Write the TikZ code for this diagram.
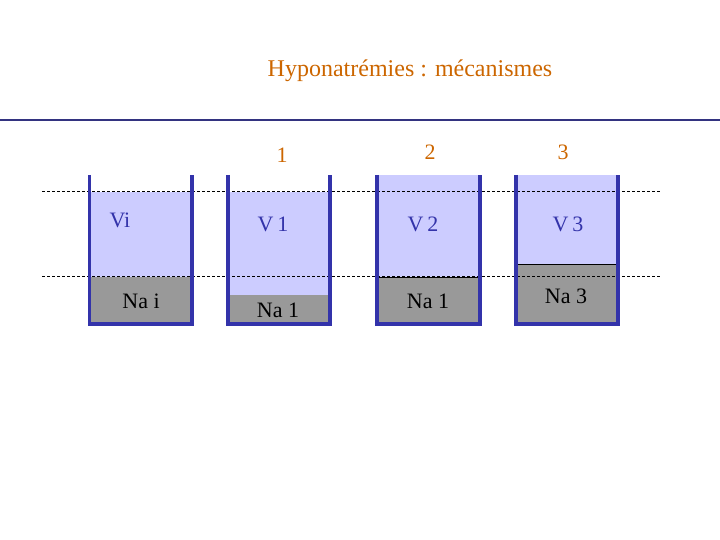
\documentclass[tikz,border=0pt]{standalone}
\usepackage{fontspec}
\setmainfont{Liberation Serif}

\definecolor{orangetitre}{RGB}{204,102,0}
\definecolor{bleuparoi}{RGB}{51,51,170}
\definecolor{bleueau}{RGB}{204,204,255}
\definecolor{grissel}{RGB}{153,153,153}
\definecolor{bleutrait}{RGB}{51,51,128}

\tikzset{
  paroi/.style={draw=bleuparoi, line width=3.5pt},
  eau/.style={fill=bleueau},
  sel/.style={fill=grissel},
  niveau/.style={dash pattern=on 3pt off 2pt, line width=1pt},
  grand/.style={font=\fontsize{24}{28}\selectfont, text=orangetitre},
  num/.style={font=\fontsize{22}{26}\selectfont, text=orangetitre, anchor=base},
  vol/.style={font=\fontsize{22}{26}\selectfont, text=bleuparoi, anchor=base},
  na/.style={font=\fontsize{22}{26}\selectfont, anchor=base},
}

\begin{document}
\begin{tikzpicture}[x=1pt,y=-1pt]

\useasboundingbox (0,0) rectangle (720,540);

\node[grand,anchor=base] (ttl) at (410,77) {Hyponatrémies : mécanismes};
\draw[bleutrait, line width=1.2pt] (0,120) -- (720,120);

% eau et sel
\fill[eau] (89.5,192) rectangle (192,277);
\fill[sel] (89.5,277) rectangle (192,324);
\fill[eau] (228,192) rectangle (330,295);
\fill[sel] (228,295) rectangle (330,324);
\fill[eau] (377,175) rectangle (480,277);
\fill[sel] (377,277) rectangle (480,324);
\draw[line width=0.8pt] (377,277) -- (480,277);
\fill[eau] (516,175) rectangle (618,264);
\fill[sel] (516,264) rectangle (618,324);
\draw[line width=0.8pt] (516,264) -- (618,264);

% niveaux
\coordinate (haut-g) at (42,192);
\coordinate (haut-d) at (660,192);
\coordinate (bas-g)  at (42,276);
\coordinate (bas-d)  at (660,276);
\draw[niveau] (haut-g) -- (haut-d);
\draw[niveau] (bas-g) -- (bas-d);

% parois
\draw[paroi] (89.5,175) -- (89.5,324) -- (192,324) -- (192,175);
\draw[paroi] (228,175) -- (228,324) -- (330,324) -- (330,175);
\draw[paroi] (377,175) -- (377,324) -- (480,324) -- (480,175);
\draw[paroi] (516,175) -- (516,324) -- (618,324) -- (618,175);

\node[num] (n1) at (282,163) {1};
\node[num] (n2) at (430,160) {2};
\node[num] (n3) at (563,160) {3};

\node[vol] (vi) at (120,228) {Vi};
\node[vol] (v1) at (273,231) {V\,1};
\node[vol] (v2) at (423,231) {V\,2};
\node[vol] (v3) at (568,231) {V\,3};

\node[na] (nai) at (141,308) {Na i};
\node[na] (na1) at (278,317) {Na 1};
\node[na] (na2) at (428,308) {Na 1};
\node[na] (na3) at (566,303) {Na 3};

\end{tikzpicture}
\end{document}
